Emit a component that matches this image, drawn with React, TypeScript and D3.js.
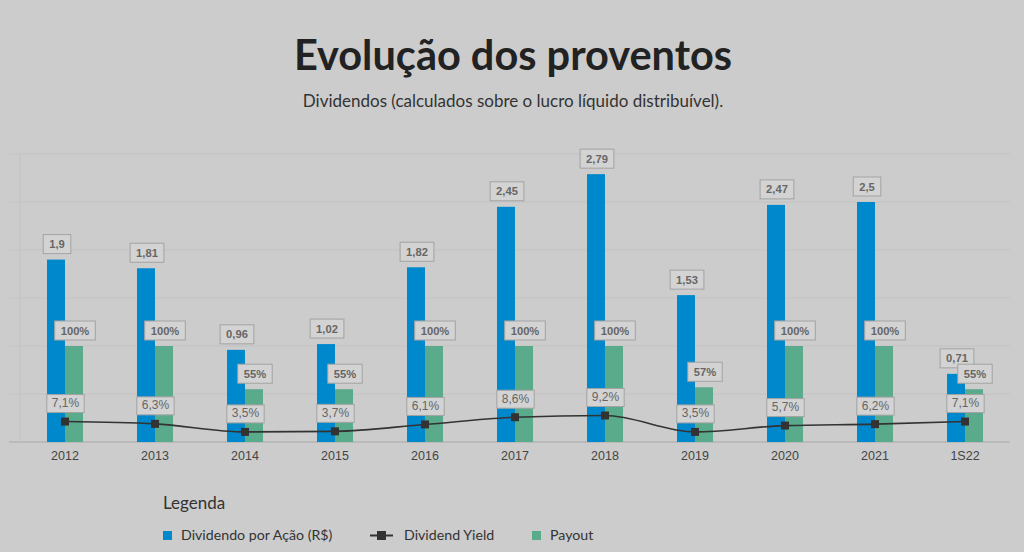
import React from "react";
import * as d3 from "d3";

const categories = ["2012", "2013", "2014", "2015", "2016", "2017", "2018", "2019", "2020", "2021", "1S22"];
const dividendo = [1.9, 1.81, 0.96, 1.02, 1.82, 2.45, 2.79, 1.53, 2.47, 2.5, 0.71];
const dividendYield = [7.1, 6.3, 3.5, 3.7, 6.1, 8.6, 9.2, 3.5, 5.7, 6.2, 7.1];
const payout = [100, 100, 55, 55, 100, 100, 100, 57, 100, 100, 55];
const divTicks = [0, 0.5, 1, 1.5, 2, 2.5, 3];

const W = 1024, H = 552;
const BG = "#cccccc";
const BLUE = "#0088cc";
const GREEN = "#5aaa8c";
const LINE = "#333333";

const fmt = (v: number) => String(v).replace(".", ",");

const charW = (ch: string, fs: number) => (ch === "," ? 0.278 : ch === "%" ? 0.889 : 0.556) * fs;
const textW = (s: string, fs: number, pad: number) => s.split("").reduce((a, c) => a + charW(c, fs), 0) + pad;

function Label({ x, y, text, h = 19, fs = 11.2, bold = true, pad = 12 }: { x: number; y: number; text: string; h?: number; fs?: number; bold?: boolean; pad?: number }) {
  const w = textW(text, fs, pad);
  return (
    <g>
      <rect x={x - w / 2} y={y - h} width={w} height={h} fill="#d3d3d3" stroke="#a3a3a3" strokeWidth={1} />
      <text x={x} y={y - 5.5} textAnchor="middle" fontFamily="Liberation Sans, Arial, sans-serif" fontWeight={bold ? "bold" : "normal"} fontSize={fs} fill="#666">
        {text}
      </text>
    </g>
  );
}

export default function App() {
  const x0 = 20, x1 = 1010, yTop = 154, yBase = 442;
  const x = d3.scaleBand<string>().domain(categories).range([x0, x1]);
  const yDiv = d3.scaleLinear().domain([0, 3]).range([yBase, yTop]);
  const yPay = d3.scaleLinear().domain([0, 300]).range([yBase, yTop]);
  const yYield = d3.scaleLinear().domain([0, 100]).range([yBase, yTop]);
  const bw = 18;
  const cx = (c: string) => (x(c) as number) + x.bandwidth() / 2;

  const line = d3
    .line<number>()
    .x((_, i) => cx(categories[i]))
    .y((d) => yYield(d))
    .curve(d3.curveMonotoneX);

  return (
    <svg width={W} height={H} style={{ position: "absolute", left: 0, top: 0, display: "block" }}>
      <rect x={0} y={0} width={W} height={H} fill={BG} />
      <text x={513} y={70} textAnchor="middle" fontFamily="Lato" fontWeight="bold" fontSize={41.5} fill="#222">
        Evolução dos proventos
      </text>
      <text x={513} y={107} textAnchor="middle" fontFamily="Lato" fontSize={17} fill="#333">
        Dividendos (calculados sobre o lucro líquido distribuível).
      </text>

      {divTicks.map((t) => (
        <line key={t} x1={9} x2={x1} y1={yDiv(t)} y2={yDiv(t)} stroke={t === 0 ? "#a8a8a8" : "#c2c2c2"} strokeWidth={1} />
      ))}
      <line x1={x0} x2={x0} y1={yTop} y2={yBase} stroke="#c2c2c2" />

      {categories.map((c, i) => (
        <g key={c}>
          <rect x={cx(c) - bw} y={yDiv(dividendo[i])} width={bw} height={yBase - yDiv(dividendo[i])} fill={BLUE} />
          <rect x={cx(c)} y={yPay(payout[i])} width={bw} height={yBase - yPay(payout[i])} fill={GREEN} />
          <text x={cx(c)} y={460} textAnchor="middle" fontFamily="Liberation Sans, Arial, sans-serif" fontSize={12.5} fill="#444">
            {c}
          </text>
        </g>
      ))}

      <path d={line(dividendYield) || ""} fill="none" stroke={LINE} strokeWidth={1.6} />
      {categories.map((c, i) => (
        <rect key={c} x={cx(c) - 4} y={yYield(dividendYield[i]) - 4} width={8} height={8} fill={LINE} />
      ))}

      {categories.map((c, i) => {
        const dl = fmt(dividendo[i]);
        const pl = payout[i] + "%";
        const yl = fmt(dividendYield[i]) + "%";
        return (
          <g key={c}>
            <Label x={cx(c) - bw / 2 + 1} y={yDiv(dividendo[i]) - 6} text={dl} />
            <Label x={cx(c) + bw / 2 + 1} y={yPay(payout[i]) - 6} text={pl} />
            <Label x={cx(c) + 0.5} y={yYield(dividendYield[i]) - 9} text={yl} h={18} fs={12} bold={false} pad={10} />
          </g>
        );
      })}

      <text x={163} y={509} fontFamily="Lato" fontSize={17} fill="#333">Legenda</text>
      <rect x={163} y={531} width={9} height={9} fill={BLUE} />
      <text x={181} y={540} fontFamily="Lato" fontSize={14.2} fill="#333">Dividendo por Ação (R$)</text>
      <line x1={370} x2={393} y1={535.5} y2={535.5} stroke={LINE} strokeWidth={2} />
      <rect x={377} y={531} width={9} height={9} fill={LINE} />
      <text x={404} y={540} fontFamily="Lato" fontSize={14.2} fill="#333">Dividend Yield</text>
      <rect x={532} y={531} width={9} height={9} fill={GREEN} />
      <text x={550} y={540} fontFamily="Lato" fontSize={14.2} fill="#333">Payout</text>
    </svg>
  );
}
